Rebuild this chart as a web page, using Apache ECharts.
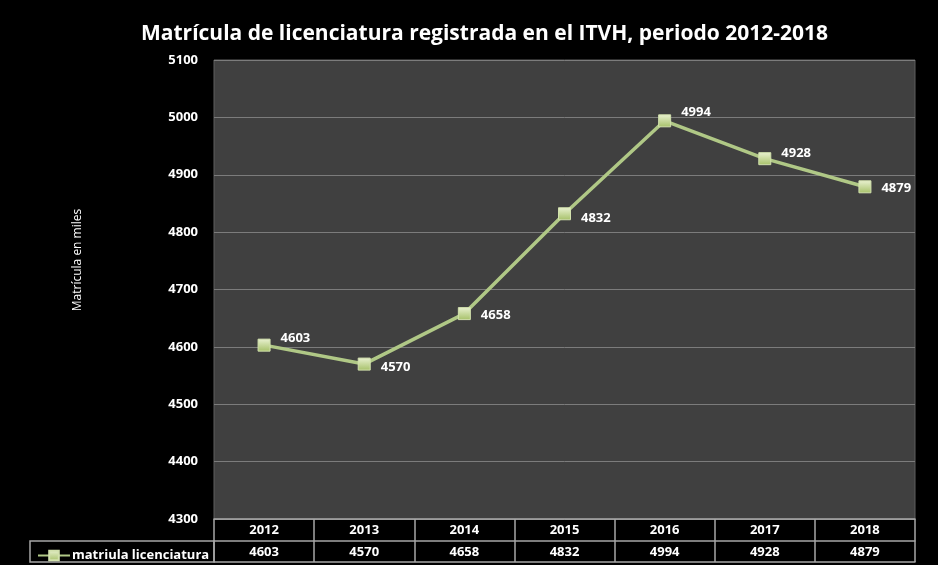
<!DOCTYPE html>
<html>
<head>
<meta charset="utf-8">
<script src="https://cdn.jsdelivr.net/npm/echarts@6/dist/echarts.min.js"></script>
<style>
  html, body { margin: 0; padding: 0; background: #000; }
  #main { width: 938px; height: 565px; }
</style>
</head>
<body>
<div id="main"></div>
<script>
(function () {
    'use strict';

    var years = ['2012', '2013', '2014', '2015', '2016', '2017', '2018'];
    var matricula = [4603, 4570, 4658, 4832, 4994, 4928, 4879];
    var yTicks = { min: 4300, max: 5100, step: 100 };
    var serieName = 'matriula licenciatura';
    // small nudges so labels sit like in the original
    var labelShift = [[0, -7], [0, 3], [0, 2], [0, 5], [0, -9], [0, -5], [0, 1]];

    var font = '"Open Sans", "DejaVu Sans", sans-serif';
    var tableLine = { color: '#a6a6a6', width: 1.5 };
    var cellText = { color: '#fff', fontWeight: 'bold', fontSize: 13, fontFamily: font };

    var dom = document.getElementById('main');
    var myChart = echarts.init(dom);

    var points = matricula.map(function (v, i) {
        return { value: v, label: { offset: labelShift[i] } };
    });

    var option = {
        backgroundColor: '#000',
        animation: false,
        title: {
            text: 'Matrícula de licenciatura registrada en el ITVH, periodo 2012-2018',
            left: 136,
            top: 19,
            textStyle: { color: '#fff', fontSize: 21, fontWeight: 'bold', fontFamily: font }
        },
        legend: {
            left: 32,
            top: 544,
            itemWidth: 32,
            itemHeight: 12,
            itemGap: 0,
            textStyle: Object.assign({ padding: [0, 0, 0, -3] }, cellText),
            data: [serieName]
        },
        grid: {
            left: 214, right: 23, top: 60, bottom: 46,
            show: true,
            backgroundColor: '#404040',
            borderColor: '#5e5e5e',
            borderWidth: 1
        },
        xAxis: [
            {
                type: 'category',
                data: years,
                position: 'bottom',
                axisLine: { lineStyle: tableLine },
                axisTick: { show: true, interval: 0, length: 43, lineStyle: tableLine },
                axisLabel: Object.assign({ margin: 5, interval: 0 }, cellText)
            },
            {
                type: 'category',
                data: matricula.map(String),
                position: 'bottom',
                offset: 22,
                axisLine: { lineStyle: tableLine },
                axisTick: { show: false },
                axisLabel: Object.assign({ margin: 5, interval: 0 }, cellText)
            },
            {
                type: 'category',
                data: years,
                position: 'bottom',
                offset: 43,
                axisLine: { lineStyle: tableLine },
                axisTick: { show: false },
                axisLabel: { show: false }
            }
        ],
        yAxis: {
            type: 'value',
            min: yTicks.min,
            max: yTicks.max,
            interval: yTicks.step,
            axisLine: { show: false },
            axisTick: { show: false },
            axisLabel: {
                margin: 16, color: '#fff', fontWeight: 'bold', fontSize: 13, fontFamily: font,
                formatter: function (v) { return String(v); }
            },
            splitLine: { lineStyle: { color: '#7c7c7c', width: 1 } }
        },
        graphic: [
            {
                type: 'rect',
                shape: { x: 30, y: 541, width: 184, height: 21 },
                style: { fill: 'none', stroke: '#a6a6a6', lineWidth: 1.5 }
            },
            {
                type: 'text',
                x: 78, y: 260,
                rotation: Math.PI / 2,
                style: {
                    text: 'Matrícula en miles',
                    fill: '#fff',
                    font: '12px ' + font,
                    align: 'center',
                    verticalAlign: 'middle'
                }
            }
        ],
        series: [
            {
                name: serieName,
                type: 'line',
                xAxisIndex: 0,
                data: points,
                symbol: 'rect',
                symbolSize: 12,
                lineStyle: { color: '#b0c886', width: 3.5 },
                itemStyle: {
                    color: new echarts.graphic.LinearGradient(0, 0, 0, 1, [
                        { offset: 0, color: '#eaf2d2' },
                        { offset: 1, color: '#a5c067' }
                    ]),
                    borderColor: '#d2e1ad',
                    borderWidth: 1
                },
                label: {
                    show: true,
                    position: 'right',
                    distance: 10,
                    color: '#fff',
                    fontWeight: 'bold',
                    fontSize: 13,
                    fontFamily: font
                }
            }
        ]
    };

    myChart.setOption(option, true);
}());
</script>
</body>
</html>
